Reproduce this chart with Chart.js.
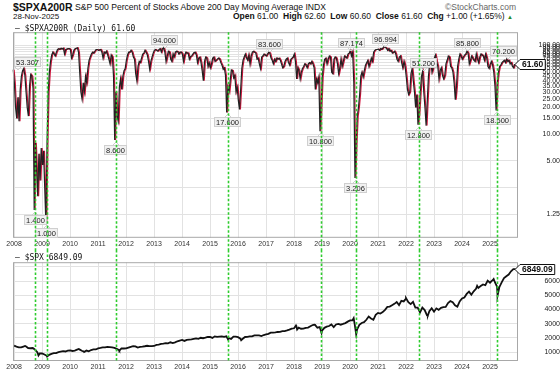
<!DOCTYPE html>
<html>
<head>
<meta charset="utf-8">
<script src="https://cdn.jsdelivr.net/npm/chart.js@4.4.1/dist/chart.umd.min.js"></script>
<style>
  body { margin: 0; width: 560px; height: 374px; background: #fff; position: relative; overflow: hidden;
         font-family: "Liberation Sans", Arial, sans-serif; color: #111; }
  .t { position: absolute; white-space: nowrap; line-height: 1; }
  .mono { font-family: "DejaVu Sans Mono", monospace; font-size: 8px; }
  canvas { position: absolute; left: 0; }
</style>
</head>
<body>
<div class="t" style="left:13px; top:2px; font-size:10.5px; font-weight:bold;">$SPXA200R</div>
<div class="t" style="left:75px; top:2.7px; font-size:8.6px;">S&amp;P 500 Percent of Stocks Above 200 Day Moving Average INDX</div>
<div class="t" style="left:445px; top:2.8px; font-size:8.5px; color:#666;">©StockCharts.com</div>
<div class="t" style="left:13px; top:12.7px; font-size:8px;">28-Nov-2025</div>
<div class="t" style="right:47px; top:12.3px; font-size:8.5px;"><b>Open</b> 61.00 &nbsp;<b>High</b> 62.60 &nbsp;<b>Low</b> 60.60 &nbsp;<b>Close</b> 61.60 &nbsp;<b>Chg</b> +1.00 (+1.65%) <span style="color:#2a8a2a; font-size:6px;">▲</span></div>

<canvas id="pctChart" width="560" height="230" style="top:20px"></canvas>
<canvas id="spxChart" width="560" height="124" style="top:250px"></canvas>

<div class="t mono" style="left:15px; top:24.5px;">&#8212; $SPXA200R (Daily) 61.60</div>
<div class="t mono" style="left:15px; top:254px;">&#8212; $SPX 6849.09</div>

<script>
// $SPXA200R - percent of S&P 500 stocks above their 200 day MA, sampled every half month from Jan 2008
const pctStart = 2008;
const pctValues = [
  // 2008
  53.3, 38, 20, 15, 26, 14, 32, 45, 52, 55, 46, 30, 20, 16, 35, 47, 45, 33, 1.4, 8, 4, 2, 6, 3,
  // 2009
  7, 4.5, 6.5, 2.5, 1.0, 8, 30, 50, 66, 78, 84, 80, 76, 84, 90, 92, 90, 93, 91, 93, 80, 90, 91, 92,
  // 2010
  92, 90, 72, 78, 88, 92, 93, 94, 84, 50, 30, 25, 38, 30, 45, 38, 55, 68, 74, 80, 84, 82, 86, 90,
  // 2011
  90, 88, 89, 90, 84, 72, 84, 82, 86, 78, 70, 62, 78, 74, 45, 8.6, 30, 16, 14, 34, 42, 32, 45, 52,
  // 2012
  55, 68, 78, 84, 84, 88, 84, 74, 70, 48, 40, 58, 66, 64, 72, 80, 82, 88, 84, 78, 66, 54, 66, 74,
  // 2013
  82, 88, 90, 88, 86, 90, 92, 84, 92, 94, 84, 66, 76, 86, 84, 70, 66, 80, 74, 84, 86, 85, 80, 84,
  // 2014
  84, 80, 66, 78, 84, 82, 82, 70, 75, 76, 80, 83, 84, 78, 64, 72, 74, 64, 52, 40, 66, 74, 72, 58,
  // 2015
  64, 56, 62, 72, 74, 66, 68, 70, 72, 70, 64, 60, 54, 56, 46, 17.6, 34, 30, 40, 53, 52, 43, 46, 30,
  // 2016
  34, 24, 19, 32, 55, 68, 74, 80, 72, 68, 78, 62, 76, 84, 86, 84, 82, 70, 72, 62, 55, 74, 76, 80,
  // 2017
  78, 76, 80, 83.6, 82, 72, 68, 62, 70, 66, 72, 70, 72, 68, 62, 56, 58, 66, 70, 72, 64, 60, 70, 72,
  // 2018
  74, 80, 66, 42, 56, 52, 42, 50, 55, 58, 62, 60, 56, 62, 64, 62, 66, 62, 56, 32, 42, 38, 44, 10.8,
  // 2019
  22, 45, 60, 70, 72, 62, 70, 76, 74, 50, 48, 70, 74, 72, 62, 48, 56, 70, 58, 66, 76, 74, 72, 80,
  // 2020
  82, 87.174, 76, 84, 38, 3.206, 8, 16, 20, 28, 45, 50, 44, 52, 60, 64, 68, 58, 64, 72, 66, 84, 88, 90,
  // 2021
  90, 91, 88, 92, 90, 94, 96.994, 95, 93, 88, 92, 86, 88, 82, 84, 86, 80, 70, 66, 74, 76, 64, 56, 66,
  // 2022
  58, 44, 32, 28, 30, 48, 55, 40, 30, 20, 28, 12.8, 18, 30, 45, 51.2, 30, 20, 12.5, 24, 45, 62, 68, 50,
  // 2023
  56, 72, 78, 66, 58, 42, 52, 56, 46, 42, 46, 62, 68, 76, 74, 58, 56, 50, 38, 24.5, 34, 58, 70, 80,
  // 2024
  76, 70, 74, 78, 80, 85.8, 82, 62, 68, 76, 72, 68, 66, 80, 70, 64, 74, 80, 78, 76, 68, 80, 72, 58,
  // 2025 (to 28-Nov)
  55, 62, 66, 60, 50, 35, 18.5, 38, 50, 58, 60, 64, 66, 68, 64, 70.2, 66, 68, 62, 64, 58, 56, 61.6
];

// $SPX month-end closes from Jan 2008, plus the swing highs / lows between them
const spxStart = 2008;
const spxStartValue = 1447;
const spxMonthly = [
  1378, 1330, 1322, 1385, 1400, 1280, 1267, 1283, 1166, 968, 896, 903,
  826, 735, 798, 873, 919, 919, 987, 1021, 1057, 1036, 1096, 1115,
  1074, 1104, 1169, 1187, 1089, 1031, 1102, 1049, 1141, 1183, 1181, 1258,
  1286, 1327, 1326, 1364, 1345, 1321, 1292, 1219, 1131, 1253, 1247, 1258,
  1312, 1366, 1408, 1398, 1310, 1362, 1379, 1407, 1441, 1412, 1416, 1426,
  1498, 1515, 1569, 1598, 1631, 1606, 1686, 1633, 1682, 1757, 1806, 1848,
  1783, 1859, 1872, 1884, 1924, 1960, 1931, 2003, 1972, 2018, 2068, 2059,
  1995, 2105, 2068, 2086, 2107, 2063, 2104, 1972, 1920, 2079, 2080, 2044,
  1940, 1932, 2060, 2065, 2097, 2099, 2174, 2171, 2168, 2126, 2199, 2239,
  2279, 2364, 2363, 2384, 2412, 2423, 2470, 2472, 2519, 2575, 2648, 2674,
  2824, 2714, 2641, 2648, 2705, 2718, 2816, 2902, 2914, 2712, 2760, 2507,
  2704, 2784, 2834, 2946, 2752, 2942, 2980, 2926, 2977, 3038, 3141, 3231,
  3226, 2954, 2585, 2912, 3044, 3100, 3271, 3500, 3363, 3270, 3622, 3756,
  3714, 3811, 3973, 4181, 4204, 4298, 4395, 4523, 4308, 4605, 4567, 4766,
  4516, 4374, 4530, 4132, 4132, 3785, 4130, 3955, 3586, 3872, 4080, 3840,
  4077, 3970, 4109, 4169, 4180, 4450, 4589, 4508, 4288, 4194, 4568, 4770,
  4846, 5096, 5254, 5036, 5278, 5460, 5522, 5648, 5762, 5705, 6032, 5882,
  6041, 5955, 5612, 5569, 5912, 6205, 6339, 6460, 6688, 6840, 6849
];
const spxSwingDates = [2008.39, 2008.87, 2009.18, 2010.31, 2010.51, 2011.33, 2011.76, 2015.64, 2016.11,
  2018.07, 2018.11, 2018.72, 2018.98, 2020.13, 2020.22, 2022.0, 2022.78, 2024.54, 2025.13, 2025.27];
const spxSwingValues = [1426, 752, 676, 1217, 1022, 1364, 1099, 1893, 1829,
  2873, 2581, 2931, 2351, 3386, 2237, 4797, 3577, 5667, 6144, 4983];

// tagged highs and lows on the percent panel
const noteDates = [2008.0, 2008.75, 2009.167, 2011.625, 2013.375, 2015.625, 2017.125, 2018.958,
  2020.042, 2020.208, 2021.25, 2022.458, 2022.625, 2024.208, 2025.25, 2025.625];
const noteValues = [53.307, 1.4, 1.0, 8.6, 94, 17.6, 83.6, 10.8, 87.174, 3.206, 96.994, 12.8, 51.2, 85.8, 18.5, 70.2];
const noteTexts = ['53.307', '1.400', '1.000', '8.600', '94.000', '17.600', '83.600', '10.800',
  '87.174', '3.206', '96.994', '12.800', '51.200', '85.800', '18.500', '70.200'];
const noteAbove = [true, false, false, false, true, false, true, false, true, false, true, false, true, true, false, true];

// green marker lines at the washout lows
const markerDates = [2008.75, 2009.167, 2011.625, 2015.625, 2018.958, 2020.208, 2022.458, 2025.25];

const yearTicks = [2008, 2009, 2010, 2011, 2012, 2013, 2014, 2015, 2016, 2017, 2018, 2019, 2020, 2021, 2022, 2023, 2024, 2025];
const pctTicks = [1.25, 2.5, 5, 10, 15, 20, 25, 30, 35, 40, 45, 50, 55, 60, 65, 70, 75, 80, 85, 90, 95, 100];
const spxTicks = [1000, 2000, 3000, 4000, 5000, 6000, 7000];

const xMin = 2007.96, xMax = 2026.0;
const labelFont = { family: '"Liberation Sans", Arial, sans-serif', size: 7 };
const gridColor = '#e2e2e2';

const pctPoints = pctValues.map((v, i) => ({ x: pctStart + i / 24, y: v }));
const spxPoints = [{ x: spxStart, y: spxStartValue }]
  .concat(spxMonthly.map((v, i) => ({ x: spxStart + (i + 1) / 12, y: v })))
  .concat(spxSwingDates.map((d, i) => ({ x: d, y: spxSwingValues[i] })))
  .sort((a, b) => a.x - b.x);

// Plot frame
const framePlugin = {
  id: 'frame',
  afterDatasetsDraw(chart) {
    const a = chart.chartArea, ctx = chart.ctx;
    ctx.save();
    ctx.strokeStyle = '#a8a8a8';
    ctx.lineWidth = 1;
    ctx.strokeRect(a.left + 0.5, a.top + 0.5, a.right - a.left - 1, a.bottom - a.top - 1);
    ctx.restore();
  }
};

// Shift the black under-line a hair left so it only peeks out on steep moves
const shadowShift = {
  id: 'shadowShift',
  beforeDatasetDraw(chart, args) {
    if (args.index === 0) { chart.ctx.save(); chart.ctx.translate(-0.9, 0); }
  },
  afterDatasetDraw(chart, args) {
    if (args.index === 0) chart.ctx.restore();
  }
};

// Value tag on the right axis for the last close
function drawTag(chart, value, text) {
  const ctx = chart.ctx, a = chart.chartArea;
  const y = Math.round(chart.scales.y.getPixelForValue(value)) + 0.5;
  ctx.save();
  ctx.font = 'bold 8.5px "Liberation Sans", Arial, sans-serif';
  const w = ctx.measureText(text).width + 4;
  const x0 = a.right - 3;
  ctx.beginPath();
  ctx.moveTo(x0, y);
  ctx.lineTo(x0 + 5, y - 5);
  ctx.lineTo(x0 + 5 + w, y - 5);
  ctx.lineTo(x0 + 5 + w, y + 5);
  ctx.lineTo(x0 + 5, y + 5);
  ctx.closePath();
  ctx.fillStyle = '#fff';
  ctx.fill();
  ctx.strokeStyle = '#111';
  ctx.lineWidth = 1;
  ctx.stroke();
  ctx.fillStyle = '#111';
  ctx.textBaseline = 'middle';
  ctx.fillText(text, x0 + 7, y + 0.5);
  ctx.restore();
}

// Annotation boxes for the tagged highs / lows
const notesPlugin = {
  id: 'notes',
  afterDatasetsDraw(chart) {
    const ctx = chart.ctx, a = chart.chartArea;
    const xs = chart.scales.x, ys = chart.scales.y;
    ctx.save();
    ctx.font = '7.5px "Liberation Sans", Arial, sans-serif';
    noteDates.forEach((d, i) => {
      const px = xs.getPixelForValue(d), py = ys.getPixelForValue(noteValues[i]);
      const text = noteTexts[i];
      const w = Math.round(ctx.measureText(text).width + 4), h = 10;
      let bx = Math.round(px - w / 2);
      bx = Math.max(a.left + 1, Math.min(bx, a.right - w - 1));
      const by = Math.round(noteAbove[i] ? py - 3 - h : py + 5);
      ctx.fillStyle = '#f1f1f1';
      ctx.fillRect(bx, by, w, h);
      ctx.strokeStyle = '#cfcfcf';
      ctx.lineWidth = 1;
      ctx.strokeRect(bx + 0.5, by + 0.5, w - 1, h - 1);
      // small caret towards the point
      const cx = Math.round(Math.max(bx + 4, Math.min(px, bx + w - 4)));
      ctx.beginPath();
      if (noteAbove[i]) {
        ctx.moveTo(cx - 3, by + h);
        ctx.lineTo(cx, by + h + 3);
        ctx.lineTo(cx + 3, by + h);
      } else {
        ctx.moveTo(cx - 3, by);
        ctx.lineTo(cx, by - 3);
        ctx.lineTo(cx + 3, by);
      }
      ctx.stroke();
      ctx.fillStyle = '#222';
      ctx.textAlign = 'center';
      ctx.textBaseline = 'middle';
      ctx.fillText(text, bx + w / 2, by + h / 2 + 0.5);
    });
    ctx.restore();
    drawTag(chart, pctValues[pctValues.length - 1], '61.60');
  }
};

// Dotted green lines through both panels
function markerPlugin(topFn, bottomFn) {
  return {
    id: 'markers',
    afterDraw(chart) {
      const ctx = chart.ctx, xs = chart.scales.x;
      ctx.save();
      ctx.strokeStyle = '#2ecc2e';
      ctx.lineWidth = 1.6;
      ctx.setLineDash([2.5, 2]);
      markerDates.forEach(d => {
        const x = Math.round(xs.getPixelForValue(d)) + 0.5;
        ctx.beginPath();
        ctx.moveTo(x, topFn(chart));
        ctx.lineTo(x, bottomFn(chart));
        ctx.stroke();
      });
      ctx.restore();
    }
  };
}

function xAxis(height) {
  return {
    type: 'linear',
    min: xMin,
    max: xMax,
    bounds: 'data',
    afterBuildTicks: s => { s.ticks = yearTicks.map(v => ({ value: v })); },
    afterFit: s => { s.height = height; },
    grid: { color: gridColor, drawTicks: false },
    border: { display: false },
    ticks: { autoSkip: false, maxRotation: 0, padding: 2, color: '#333', font: labelFont, callback: v => String(v) }
  };
}

new Chart(document.getElementById('pctChart'), {
  type: 'line',
  data: {
    datasets: [
      {
        data: pctPoints,
        borderColor: '#222',
        borderWidth: 1.2,
        pointRadius: 0,
        tension: 0
      },
      {
        data: pctPoints,
        borderColor: '#d2143c',
        borderWidth: 1.2,
        pointRadius: 0,
        tension: 0
      }
    ]
  },
  options: {
    responsive: false,
    animation: false,
    layout: { padding: { left: 13, top: 2, right: 0, bottom: 0 } },
    plugins: { legend: { display: false }, tooltip: { enabled: false } },
    scales: {
      x: xAxis(10),
      y: {
        type: 'logarithmic',
        position: 'right',
        min: 0.68,
        max: 141,
        bounds: 'data',
        afterBuildTicks: s => { s.ticks = pctTicks.map(v => ({ value: v })); },
        afterFit: s => { s.width = 42; },
        grid: { color: gridColor, drawTicks: false },
        border: { display: false },
        ticks: {
          autoSkip: false, padding: 8, crossAlign: 'far', color: '#222', font: labelFont,
          callback: v => (v === 2.5 ? '' : Number(v).toFixed(2))
        }
      }
    }
  },
  plugins: [shadowShift, framePlugin, notesPlugin, markerPlugin(c => c.chartArea.top, c => c.height)]
});

new Chart(document.getElementById('spxChart'), {
  type: 'line',
  data: {
    datasets: [{
      data: spxPoints,
      borderColor: '#111',
      borderWidth: 1.8,
      pointRadius: 0,
      tension: 0
    }]
  },
  options: {
    responsive: false,
    animation: false,
    layout: { padding: { left: 13, top: 1, right: 0, bottom: 0 } },
    plugins: { legend: { display: false }, tooltip: { enabled: false } },
    scales: {
      x: xAxis(13),
      y: {
        type: 'linear',
        position: 'right',
        min: 367,
        max: 7330,
        bounds: 'data',
        afterBuildTicks: s => { s.ticks = spxTicks.map(v => ({ value: v })); },
        afterFit: s => { s.width = 42; },
        grid: { color: gridColor, drawTicks: false },
        border: { display: false },
        ticks: {
          autoSkip: false, padding: 8, crossAlign: 'far', color: '#222', font: labelFont,
          callback: v => (v === 7000 ? '' : String(v))
        }
      }
    }
  },
  plugins: [framePlugin, {
    id: 'spxTag',
    afterDatasetsDraw(chart) { drawTag(chart, spxMonthly[spxMonthly.length - 1], '6849.09'); }
  }, markerPlugin(() => 0, c => c.chartArea.bottom)]
});
</script>
</body>
</html>
